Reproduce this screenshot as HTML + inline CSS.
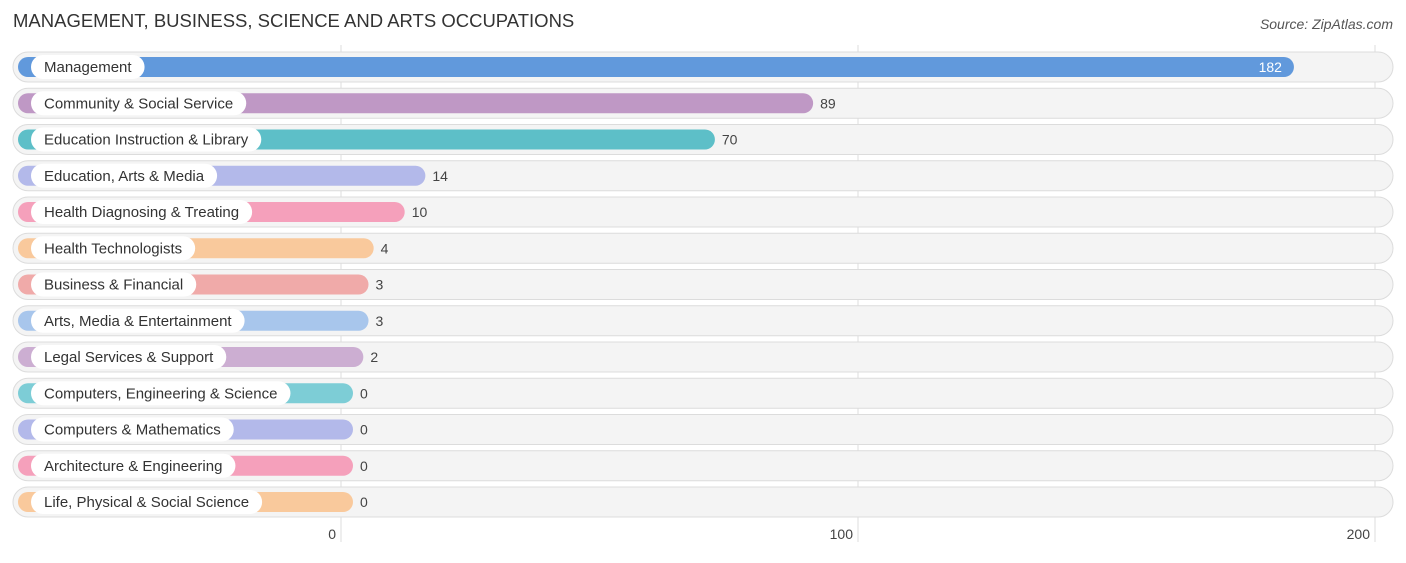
<!DOCTYPE html>
<html><head><meta charset="utf-8"><style>
body{margin:0;width:1406px;height:558px;background:#fff;overflow:hidden;font-family:"Liberation Sans",sans-serif}
</style></head><body>
<svg id="chart" width="1406" height="558" xmlns="http://www.w3.org/2000/svg" font-family="Liberation Sans, sans-serif">
<text x="13" y="27" font-size="18.5" fill="#333">MANAGEMENT, BUSINESS, SCIENCE AND ARTS OCCUPATIONS</text>
<text x="1393" y="29" font-size="14" fill="#555" font-style="italic" text-anchor="end">Source: ZipAtlas.com</text>
<g id="grid"></g><g id="rows"></g><g id="ticks"></g>
</svg>
<script>
const categories=["Management","Community & Social Service","Education Instruction & Library","Education, Arts & Media","Health Diagnosing & Treating","Health Technologists","Business & Financial","Arts, Media & Entertainment","Legal Services & Support","Computers, Engineering & Science","Computers & Mathematics","Architecture & Engineering","Life, Physical & Social Science"];
const values=[182,89,70,14,10,4,3,3,2,0,0,0,0];
const colors=["#6199dc","#bf98c5","#5dbfc8","#b3b9ea","#f5a0bb","#f9c99c","#f0aaa9","#a8c6ec","#ccaed2","#7dcdd6","#b3b9ea","#f5a0bb","#f9c99c"];
const tickValues=[0,100,200];
const ns="http://www.w3.org/2000/svg";
const x0=341,pxPer=5.17,barBase=353;
const xGrid=v=>x0+v*pxPer;
const barEnd=v=>barBase+v*pxPer;
const rowY=i=>67+i*36.25;
function mk(t,a,p){const e=document.createElementNS(ns,t);for(const k in a)e.setAttribute(k,a[k]);p.appendChild(e);return e;}
const grid=document.getElementById('grid'),rows=document.getElementById('rows'),ticks=document.getElementById('ticks');
tickValues.forEach(v=>{
 const l=mk('line',{x1:xGrid(v),x2:xGrid(v),y1:45,y2:542,stroke:'#ddd','stroke-width':1},grid);
 
 
 const t=mk('text',{x:xGrid(v)-5,y:539,'font-size':14,fill:'#444','text-anchor':'end'},ticks);
 t.textContent=v;
 
 
});
categories.forEach((c,i)=>{
 const y=rowY(i);
 const g=mk('g',{},rows);
 
 
 const bg=mk('rect',{x:13,y:y-15,width:1380,height:30,rx:15,fill:'#f4f4f4',stroke:'#dcdcdc','stroke-width':1},g);
 
 
 const w=barEnd(values[i])-18;
 const b=mk('rect',{x:18,y:y-10,width:w,height:20,rx:10,fill:colors[i]},g);
 
 
 const lt=mk('text',{x:44,y:y+5,'font-size':15,fill:'#333'},g);
 lt.textContent=c;
 const tw=lt.getComputedTextLength();
 const lp=mk('rect',{x:31,y:y-12,width:tw+26,height:24,rx:12,fill:'#fff'},g);
 g.insertBefore(lp,lt);
 
 
 
 
 const inside=values[i]>150;
 const vt=mk('text',{x:inside?barEnd(values[i])-12:barEnd(values[i])+7,y:y+5,'font-size':14,fill:inside?'#fff':'#444','text-anchor':inside?'end':'start'},g);
 vt.textContent=values[i];
 
 
});
</script>
</body></html>
